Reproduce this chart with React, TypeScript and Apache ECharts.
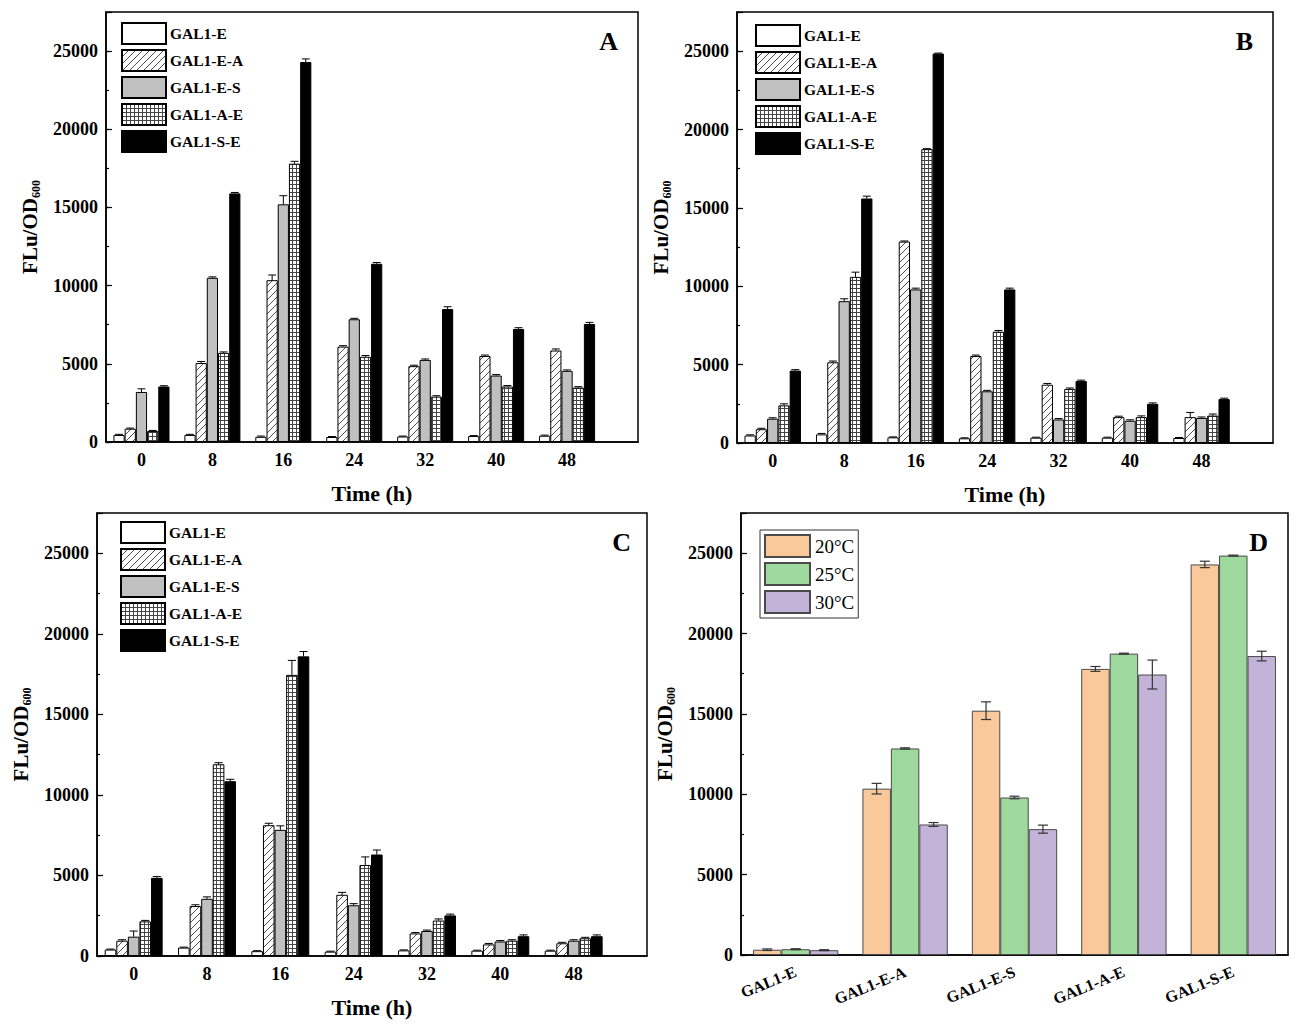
import React, { useEffect, useRef } from 'react';
import * as echarts from 'echarts';

// Sampling times (h) and construct / temperature names
const hours = [0, 8, 16, 24, 32, 40, 48];
const constructs = ['GAL1-E', 'GAL1-E-A', 'GAL1-E-S', 'GAL1-A-E', 'GAL1-S-E'];
const temps = ['20°C', '25°C', '30°C'];
const panelLetters = ['A', 'B', 'C', 'D'];

// Panel A — FLu/OD600 over time, one array per construct
const aE = [450, 450, 330, 320, 350, 380, 400];
const aEA = [850, 5050, 10350, 6100, 4850, 5500, 5850];
const aES = [3200, 10500, 15200, 7850, 5250, 4250, 4550];
const aAE = [700, 5700, 17800, 5450, 2900, 3550, 3480];
const aSE = [3550, 15900, 24300, 11400, 8500, 7230, 7550];
const aErrE = [40, 40, 50, 30, 30, 30, 40];
const aErrEA = [40, 100, 330, 60, 60, 60, 100];
const aErrES = [200, 60, 550, 60, 60, 60, 60];
const aErrAE = [40, 60, 150, 80, 60, 60, 60];
const aErrSE = [50, 60, 200, 80, 150, 80, 100];

// Panel B
const bE = [480, 550, 360, 300, 340, 340, 320];
const bEA = [880, 5150, 12850, 5550, 3720, 1650, 1650];
const bES = [1550, 9050, 9800, 3300, 1500, 1420, 1600];
const bAE = [2400, 10600, 18750, 7100, 3450, 1650, 1750];
const bSE = [4620, 15600, 24850, 9800, 3950, 2500, 2800];
const bErrE = [40, 60, 30, 30, 30, 30, 30];
const bErrEA = [60, 80, 40, 60, 80, 60, 300];
const bErrES = [60, 150, 80, 60, 60, 60, 60];
const bErrAE = [100, 300, 30, 80, 60, 80, 100];
const bErrSE = [60, 150, 30, 80, 60, 60, 60];

// Panel C
const cE = [400, 520, 300, 270, 350, 330, 330];
const cEA = [950, 3100, 8120, 3800, 1400, 720, 790];
const cES = [1200, 3550, 7830, 3150, 1550, 900, 950];
const cAE = [2150, 11900, 17450, 5650, 2200, 950, 1100];
const cSE = [4850, 10850, 18600, 6300, 2520, 1230, 1230];
const cErrE = [30, 30, 30, 30, 30, 30, 30];
const cErrEA = [60, 80, 120, 150, 60, 60, 60];
const cErrES = [350, 120, 250, 100, 60, 60, 60];
const cErrAE = [60, 100, 900, 500, 100, 60, 60];
const cErrSE = [80, 120, 300, 280, 80, 80, 80];

const panelValues = [
  [aE, aEA, aES, aAE, aSE],
  [bE, bEA, bES, bAE, bSE],
  [cE, cEA, cES, cAE, cSE],
];
const panelErrors = [
  [aErrE, aErrEA, aErrES, aErrAE, aErrSE],
  [bErrE, bErrEA, bErrES, bErrAE, bErrSE],
  [cErrE, cErrEA, cErrES, cErrAE, cErrSE],
];

// Panel D — the 16 h values of panels A (20°C), B (25°C) and C (30°C)
const peakIndex = hours.indexOf(16);
const dValues = panelValues.map((set) => set.map((s) => s[peakIndex]));
const dErrors = panelErrors.map((set) => set.map((s) => s[peakIndex]));

const yTicks = [0, 5000, 10000, 15000, 20000, 25000];
const tempColors = ['#f9c99b', '#9ed99d', '#c4b3d9'];

const FONT = '"Liberation Serif", "Times New Roman", serif';

const grids = [
  { left: 106, top: 12, width: 532, height: 430 },
  { left: 737, top: 12, width: 536, height: 431 },
  { left: 97, top: 513, width: 550, height: 443 },
  { left: 741, top: 513, width: 547, height: 442 },
];
const legendPos = [
  { left: 121, top: 22 },
  { left: 755, top: 24 },
  { left: 120, top: 521 },
];

function makeHatch() {
  const s = 7;
  const c = document.createElement('canvas');
  c.width = s;
  c.height = s;
  const g = c.getContext('2d')!;
  g.fillStyle = '#ffffff';
  g.fillRect(0, 0, s, s);
  g.strokeStyle = '#3a3a3a';
  g.lineWidth = 0.9;
  g.beginPath();
  g.moveTo(0, s);
  g.lineTo(s, 0);
  g.moveTo(-1, 1);
  g.lineTo(1, -1);
  g.moveTo(s - 1, s + 1);
  g.lineTo(s + 1, s - 1);
  g.stroke();
  return { image: c.toDataURL(), repeat: 'repeat', imageWidth: s, imageHeight: s };
}

function makeGridPattern() {
  const s = 4;
  const c = document.createElement('canvas');
  c.width = s;
  c.height = s;
  const g = c.getContext('2d')!;
  g.fillStyle = '#ffffff';
  g.fillRect(0, 0, s, s);
  g.strokeStyle = '#444444';
  g.lineWidth = 1;
  g.beginPath();
  g.moveTo(0.5, 0);
  g.lineTo(0.5, s);
  g.moveTo(0, 0.5);
  g.lineTo(s, 0.5);
  g.stroke();
  return { image: c.toDataURL(), repeat: 'repeat', imageWidth: s, imageHeight: s };
}

function buildOption() {
  const fills: any[] = ['#ffffff', makeHatch(), '#c0c0c0', makeGridPattern(), '#000000'];

  const yAxisName = {
    name: '{a|FLu/OD}{b|600}',
    nameLocation: 'middle',
    nameRotate: 90,
    nameGap: 64,
    nameTextStyle: {
      rich: {
        a: { fontFamily: FONT, fontWeight: 'bold', fontSize: 21, color: '#000', lineHeight: 25 },
        b: {
          fontFamily: FONT,
          fontWeight: 'bold',
          fontSize: 12,
          color: '#000',
          lineHeight: 12,
          verticalAlign: 'bottom',
        },
      },
    },
  };

  const xAxis: any[] = [];
  const yAxis: any[] = [];
  const series: any[] = [];
  const legend: any[] = [];
  const graphic: any[] = [];

  grids.forEach((gr, gi) => {
    // main y axis with labels and major ticks
    yAxis.push({
      type: 'value',
      gridIndex: gi,
      position: 'left',
      min: 0,
      max: 27500,
      interval: 5000,
      ...yAxisName,
      axisLine: { show: true, onZero: false, lineStyle: { color: '#000', width: 1.5 } },
      axisTick: { show: true, inside: true, length: 6, lineStyle: { color: '#000', width: 1.2 } },
      axisLabel: {
        fontFamily: FONT,
        fontWeight: 'bold',
        fontSize: 18,
        color: '#000',
        margin: 8,
        formatter: (v: number) => (yTicks.indexOf(v) >= 0 ? String(v) : ''),
      },
      splitLine: { show: false },
    });
    // secondary y axis carrying the half-step ticks
    yAxis.push({
      type: 'value',
      gridIndex: gi,
      position: 'left',
      min: 0,
      max: 27500,
      interval: 2500,
      axisLine: { show: false, onZero: false },
      axisTick: { show: true, inside: true, length: 3, lineStyle: { color: '#000', width: 1.2 } },
      axisLabel: { show: false },
      splitLine: { show: false },
    });

    graphic.push({
      type: 'text',
      right: 1299 - (gr.left + gr.width) + (gi === 2 ? 16 : 20),
      top: gr.top + 16,
      style: { text: panelLetters[gi], font: `bold 26px ${FONT}`, fill: '#000' },
    });
  });

  for (let p = 0; p < 3; p++) {
    const gr = grids[p];
    const barW = (gr.width / 7.5) * 0.158;
    xAxis.push({
      type: 'value',
      gridIndex: p,
      position: 'bottom',
      min: -4,
      max: 56,
      name: 'Time (h)',
      nameLocation: 'middle',
      nameGap: 40,
      nameTextStyle: { fontFamily: FONT, fontWeight: 'bold', fontSize: 22, color: '#000' },
      axisLine: { show: true, onZero: false, lineStyle: { color: '#000', width: 1.5 } },
      axisTick: {
        show: true,
        inside: true,
        length: 5,
        customValues: hours,
        lineStyle: { color: '#000', width: 1.2 },
      },
      axisLabel: {
        fontFamily: FONT,
        fontWeight: 'bold',
        fontSize: 18,
        color: '#000',
        margin: 9,
        customValues: hours,
      },
      splitLine: { show: false },
    });

    constructs.forEach((name, k) => {
      series.push({
        type: 'bar',
        name,
        xAxisIndex: p,
        yAxisIndex: p * 2,
        barWidth: barW,
        barGap: '0%',
        itemStyle: { color: fills[k], borderColor: '#000', borderWidth: 1 },
        data: hours.map((h, j) => [h, panelValues[p][k][j]]),
        z: 2,
      });
    });

    const errData: number[][] = [];
    constructs.forEach((_, k) => {
      hours.forEach((h, j) => errData.push([h, panelValues[p][k][j], panelErrors[p][k][j], k]));
    });
    series.push({
      type: 'custom',
      xAxisIndex: p,
      yAxisIndex: p * 2,
      silent: true,
      z: 5,
      data: errData,
      renderItem: (params: any, api: any) => {
        const x = api.value(0);
        const y = api.value(1);
        const e = api.value(2);
        const k = api.value(3);
        const base = api.coord([x, y]);
        const top = api.coord([x, y + e]);
        const cx = base[0] + (k - 2) * barW;
        const cap = barW * 0.35;
        const st = { stroke: '#000', lineWidth: 1 };
        return {
          type: 'group',
          children: [
            { type: 'line', shape: { x1: cx, y1: base[1], x2: cx, y2: top[1] }, style: st },
            { type: 'line', shape: { x1: cx - cap, y1: top[1], x2: cx + cap, y2: top[1] }, style: st },
          ],
        };
      },
    });

    legend.push({
      orient: 'vertical',
      left: legendPos[p].left,
      top: legendPos[p].top,
      padding: 0,
      itemWidth: 44,
      itemHeight: 21,
      itemGap: 4,
      icon: 'rect',
      selectedMode: false,
      data: constructs,
      textStyle: { fontFamily: FONT, fontWeight: 'bold', fontSize: 15.5, color: '#000', padding: [0, 0, 0, -1] },
    });
  }

  // Panel D — peak values grouped by construct and temperature
  const gd = grids[3];
  const dBand = gd.width / constructs.length;
  const dBarW = (dBand * 0.78) / 3;
  xAxis.push({
    type: 'category',
    gridIndex: 3,
    position: 'bottom',
    data: constructs,
    axisLine: { show: true, onZero: false, lineStyle: { color: '#000', width: 1.5 } },
    axisTick: { show: false },
    axisLabel: {
      fontFamily: FONT,
      fontWeight: 'bold',
      fontSize: 16,
      color: '#000',
      rotate: 22,
      margin: 16,
      interval: 0,
    },
    splitLine: { show: false },
  });
  temps.forEach((name, t) => {
    series.push({
      type: 'bar',
      name,
      xAxisIndex: 3,
      yAxisIndex: 6,
      barWidth: dBarW,
      barGap: '0%',
      itemStyle: { color: tempColors[t], borderColor: '#4a4a4a', borderWidth: 1 },
      data: dValues[t],
      z: 2,
    });
  });
  const dErrData: number[][] = [];
  temps.forEach((_, t) => {
    constructs.forEach((__, c) => dErrData.push([c, dValues[t][c], dErrors[t][c], t]));
  });
  series.push({
    type: 'custom',
    xAxisIndex: 3,
    yAxisIndex: 6,
    silent: true,
    z: 5,
    data: dErrData,
    renderItem: (params: any, api: any) => {
      const c = api.value(0);
      const y = api.value(1);
      const e = api.value(2);
      const t = api.value(3);
      const mid = api.coord([c, y]);
      const hi = api.coord([c, y + e]);
      const lo = api.coord([c, y - e]);
      const cx = mid[0] + (t - 1) * dBarW;
      const cap = 5;
      const st = { stroke: '#333', lineWidth: 1.2 };
      return {
        type: 'group',
        children: [
          { type: 'line', shape: { x1: cx, y1: lo[1], x2: cx, y2: hi[1] }, style: st },
          { type: 'line', shape: { x1: cx - cap, y1: hi[1], x2: cx + cap, y2: hi[1] }, style: st },
          { type: 'line', shape: { x1: cx - cap, y1: lo[1], x2: cx + cap, y2: lo[1] }, style: st },
        ],
      };
    },
  });
  legend.push({
    orient: 'vertical',
    left: 760,
    top: 530,
    padding: [4, 4, 4, 4],
    borderColor: '#333',
    borderWidth: 1,
    itemWidth: 45,
    itemHeight: 22,
    itemGap: 4,
    icon: 'rect',
    selectedMode: false,
    data: temps,
    textStyle: { fontFamily: FONT, fontSize: 19, color: '#000' },
  });

  return {
    animation: false,
    backgroundColor: '#ffffff',
    grid: grids.map((g) => ({
      ...g,
      show: true,
      borderColor: '#000',
      borderWidth: 1.5,
      backgroundColor: 'transparent',
      containLabel: false,
    })),
    xAxis,
    yAxis,
    legend,
    graphic,
    series,
  };
}

export default function App() {
  const ref = useRef<HTMLDivElement>(null);
  useEffect(() => {
    if (!ref.current) return;
    const chart = echarts.init(ref.current, null, { renderer: 'svg' });
    chart.setOption(buildOption() as any);
    return () => chart.dispose();
  }, []);
  return (
    <div
      ref={ref}
      style={{ position: 'absolute', left: 0, top: 0, width: 1299, height: 1030, background: '#fff' }}
    />
  );
}
